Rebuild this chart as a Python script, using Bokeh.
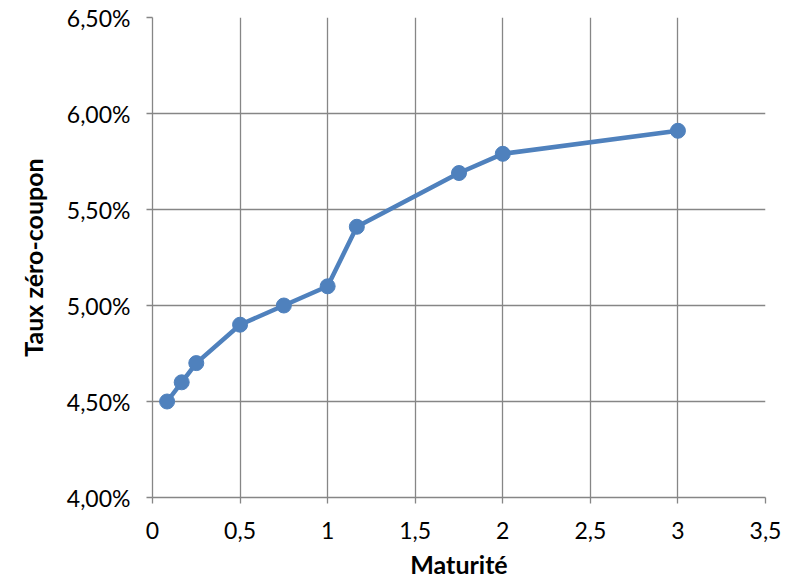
from bokeh.plotting import figure
from bokeh.models import FixedTicker, CustomJSTickFormatter, Range1d
from bokeh.embed import file_html
from bokeh.resources import INLINE

maturite = [1/12, 2/12, 0.25, 0.5, 0.75, 1.0, 14/12, 1.75, 2.0, 3.0]
taux = [4.50, 4.60, 4.70, 4.90, 5.00, 5.10, 5.41, 5.69, 5.79, 5.91]
x_ticks = [0, 0.5, 1, 1.5, 2, 2.5, 3, 3.5]
y_ticks = [4.0, 4.5, 5.0, 5.5, 6.0, 6.5]

FONT = "Lato"
GRID = "#868686"
BLUE = "#4F81BD"

p = figure(width=791, height=583, output_backend="svg", toolbar_location=None,
           x_range=Range1d(0, 3.5), y_range=Range1d(4.0, 6.5),
           min_border_left=152, min_border_top=17, min_border_right=26, min_border_bottom=86)
p.outline_line_color = None
p.background_fill_color = "white"
p.border_fill_color = "white"

p.line(maturite, taux, line_color=BLUE, line_width=4.5)
p.scatter(maturite, taux, size=15, fill_color=BLUE, line_color=BLUE)

for ax in (p.xaxis[0], p.yaxis[0]):
    ax.axis_line_color = GRID
    ax.axis_line_width = 1.3
    ax.major_tick_line_color = GRID
    ax.major_tick_line_width = 1.3
    ax.major_tick_out = 6
    ax.major_tick_in = 0
    ax.minor_tick_line_color = None
    ax.major_label_text_font = FONT
    ax.major_label_text_font_size = "23px"
    ax.major_label_text_color = "black"
    ax.axis_label_text_font = FONT
    ax.axis_label_text_font_size = "25px"
    ax.axis_label_text_font_style = "bold"
    ax.axis_label_text_color = "black"

p.xaxis.ticker = FixedTicker(ticks=x_ticks)
p.yaxis.ticker = FixedTicker(ticks=y_ticks)
p.xaxis.formatter = CustomJSTickFormatter(code="""
    return (Math.abs(tick % 1) < 1e-9) ? tick.toFixed(0) : tick.toFixed(1).replace('.', ',');
""")
p.yaxis.formatter = CustomJSTickFormatter(code="""
    return tick.toFixed(2).replace('.', ',') + '%';
""")
p.xaxis.axis_label = "Maturité"
p.yaxis.axis_label = "Taux zéro-coupon"
p.xaxis.major_label_standoff = 18
p.yaxis.major_label_standoff = 16
p.xaxis.axis_label_standoff = 7
p.yaxis.axis_label_standoff = 16

p.xgrid.ticker = FixedTicker(ticks=x_ticks)
p.ygrid.ticker = FixedTicker(ticks=y_ticks)
p.grid.grid_line_color = GRID
p.grid.grid_line_width = 1.3

open("out.html", "w").write(file_html(p, INLINE))
